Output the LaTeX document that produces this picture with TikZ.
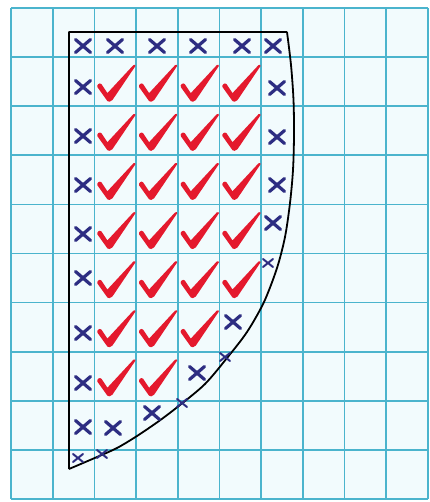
\documentclass[tikz,border=0pt]{standalone}
\usetikzlibrary{calc}
\definecolor{gridc}{RGB}{75,180,205}
\definecolor{cellc}{RGB}{242,251,253}
\definecolor{navyx}{RGB}{45,45,130}
\definecolor{redck}{RGB}{228,25,45}
\tikzset{
  gridline/.style={draw=gridc, line width=1.7pt},
  outline/.style={draw=black, line width=1.8pt, line join=round},
  xstroke/.style={draw=navyx, line width=3.2pt, line cap=round},
  xstrokesmall/.style={draw=navyx, line width=2pt, line cap=round},
  xm/.pic={\draw[xstroke] (-7.5,-6.5) -- (7.5,6.5) (-7.5,6.5) -- (7.5,-6.5);},
  xs/.pic={\draw[xstrokesmall] (-5,-4) -- (5,4) (-5,4) -- (5,-4);},
  ck/.pic={\fill[redck] (0,1) -- (-10,-13) .. controls (-11,-15) and (-8,-18) .. (-6,-16)
            -- (0,-7) -- (26,-35) .. controls (27,-36) and (29,-35) .. (28,-34)
            -- (5,0) .. controls (3,2) and (1,2) .. (0,1) -- cycle;}
}
\begin{document}
\begin{tikzpicture}[x=1pt,y=-1pt]
\useasboundingbox (0,0) rectangle (429,502);
\fill[white] (0,0) rectangle (429,502);
\fill[cellc] (11,8) rectangle (428,499);
% grid
\foreach \c in {0,...,10} \draw[gridline] ({11+41.7*\c},8) -- ({11+41.7*\c},499);
\foreach \r in {0,...,10} \draw[gridline] (11,{8+49.1*\r}) -- (428,{8+49.1*\r});
% outline
\draw[outline] (69,469) -- (69,32) -- (287,32)
  plot[smooth] coordinates {(287,32) (291,65) (293.5,100) (294,135) (293,170) (290,203) (285,237) (277,268) (264,302) (247,332) (227,358) (205,384) (180,405) (159,421) (137,436) (117,448) (97,457) (69,469)};
% checks
\foreach \r in {1,...,5} \foreach \c in {2,...,5} \pic at ({11+41.7*\c+13},{8+49.1*\r+43}) {ck};
\foreach \c in {2,3,4} \pic at ({11+41.7*\c+13},{8+49.1*6+43}) {ck};
\foreach \c in {2,3} \pic at ({11+41.7*\c+13},{8+49.1*7+43}) {ck};
% big crosses
\foreach \p in {(83,46),(115,46),(157,46),(198,46),(242,46),(273,46),
  (83,87),(83,136),(83,185),(83,234),(83,278),(83,333),(83,383),(83,427),
  (277,88),(277,137),(277,185),(273,223),
  (233,322),(197,373),(152,413),(113,428)} \pic at \p {xm};
% small crosses
\foreach \p in {(268,263),(225,357),(182,403),(78,458),(102,454)} \pic at \p {xs};
\end{tikzpicture}
\end{document}
